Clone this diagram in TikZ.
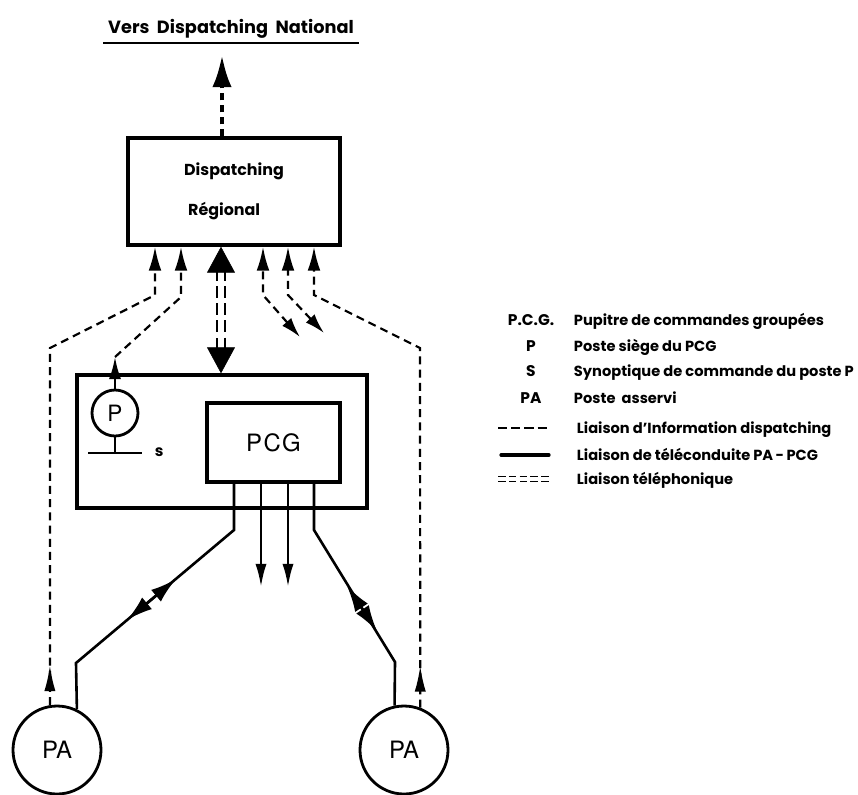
\documentclass[tikz,border=0pt]{standalone}
\usepackage{fontspec}
\setmainfont{Poppins}
\newfontfamily\helv{TeX Gyre Heros}
\usetikzlibrary{arrows.meta,decorations.markings}
\begin{document}
\begin{tikzpicture}[x=0.25mm, y=-0.25mm,
  info/.style={line width=0.55mm, dash pattern=on 2mm off 1.3mm},
  tele/.style={line width=0.65mm},
  boite/.style={draw, line width=0.85mm, inner sep=0pt},
  rond/.style={draw, circle, line width=0.7mm, inner sep=0pt},
  fl/.style={-{Latex[length=6mm,width=3.2mm]}},
  flpt/.style={{Latex[length=5mm,width=3mm]}-{Latex[length=6mm,width=3.2mm]}},
  flduo/.style={{Latex[length=6.5mm,width=3.8mm]}-{Latex[length=6.5mm,width=3.8mm]}},
  flmil/.style={postaction={decorate}, decoration={markings,
      mark=at position #1 with {\arrow{Latex[length=6.5mm,width=2.8mm]}}}},
  sigle/.style={anchor=base, font=\bfseries\fontsize{11}{12}\selectfont},
  legende/.style={anchor=base west, font=\bfseries\fontsize{10.4}{12}\selectfont}]
\useasboundingbox (0,0) rectangle (858,794);

% titre
\node[anchor=base, font=\bfseries\fontsize{12.6}{14}\selectfont] (titre) at (231,33) {Vers\ \ Dispatching\ \ National};
\draw[line width=0.5mm] (titre.south west) -- (titre.south east);

% postes
\node[boite, align=left, minimum width=53mm, minimum height=26.75mm, font=\bfseries\fontsize{11.3}{13}\selectfont] (dr) at (234,191.5) {Dispatching\\[5.3mm]\hspace*{1mm}Régional};
\node[boite, minimum width=72.5mm, minimum height=33.25mm] (poste) at (222,441.5) {};
\node[boite, minimum width=33.25mm, minimum height=19.75mm, font=\helv\fontsize{17}{17}\selectfont] (pcg) at (273.5,442.5) {P\kern1pt C\kern1pt G};
\node[rond, minimum size=11.5mm, font=\helv\fontsize{16}{16}\selectfont] (psiege) at (115,413) {P};
\node[rond, minimum size=22mm, font=\helv\fontsize{17}{17}\selectfont] (pag) at (57,750) {PA};
\node[rond, minimum size=22mm, font=\helv\fontsize{17}{17}\selectfont] (pad) at (404,750) {PA};

% synoptique s
\coordinate (sbarre) at (115,453);
\draw[tele] (psiege.south) -- (sbarre);
\draw[tele] (88,453) -- (142,453);
\node[anchor=base west, font=\bfseries\fontsize{11}{11}\selectfont] (slettre) at (150,456) {s};

% vers dispatching national
\coordinate (national) at (222,55);
\draw[line width=1.1mm, dash pattern=on 1.8mm off 1.2mm, -{Latex[length=8mm,width=4.8mm]}] (222,0 |- dr.north) -- (national);

% liaisons d'information
\draw[info, fl, flmil=10mm] (pag.99) -- (50,348) -- (155,295) -- (155,0 |- dr.south);
\draw[info, fl, flmil=10.5mm] (pad.69) -- (420,348) -- (314,295) -- (314,0 |- dr.south);
\coordinate (pcoude) at (115,357);
\draw[line width=0.55mm, -{Latex[length=5.5mm,width=3mm]}] (psiege.north) -- (pcoude);
\draw[info, fl] (pcoude) -- (181,297) -- (181,0 |- dr.south);
\coordinate (sortie1) at (300,337);
\coordinate (sortie2) at (324,333);
\draw[info, flpt] (sortie1) -- (263,295) -- (263,0 |- dr.south);
\draw[info, flpt] (sortie2) -- (288,295) -- (288,0 |- dr.south);

% liaison telephonique
\draw[line width=0.55mm, double distance=1.3mm, dash pattern=on 3mm off 1.3mm, shorten <=5.5mm, shorten >=5.5mm] (221,0 |- dr.south) -- (221,0 |- poste.north);
\draw[white, {Triangle[color=black,length=6.5mm,width=7mm]}-{Triangle[color=black,length=6.5mm,width=7mm]}] (221,0 |- dr.south) -- (221,0 |- poste.north);

% teleconduite PA-PCG
\draw[tele] (pag.64) -- (76,663) -- (234,530) -- (234,0 |- pcg.south);
\draw[tele] (pad.102) -- (395,662) -- (314,530) -- (314,0 |- pcg.south);
\coordinate (gbas) at (127,620);
\coordinate (ghaut) at (176,579);
\coordinate (dbas) at (377,631);
\coordinate (dhaut) at (347,586);
\draw[tele, flduo] (gbas) -- (ghaut);
\draw[tele, flduo] (dbas) -- (dhaut);
\coordinate (bas1) at (261,587);
\coordinate (bas2) at (288,587);
\draw[tele, -{Latex[length=5.8mm,width=2.8mm]}] (261,0 |- pcg.south) -- (bas1);
\draw[tele, -{Latex[length=5.8mm,width=2.8mm]}] (288,0 |- pcg.south) -- (bas2);

% legende
\node[sigle] (s1) at (531,325) {P.C.G.};
\node[legende] (l1) at (569,325) {Pupitre\ de\ commandes\ groupées};
\node[sigle] (s2) at (531,351) {P};
\node[legende] (l2) at (569,351) {Poste\ siège\ du\ PCG};
\node[sigle] (s3) at (531,376) {S};
\node[legende] (l3) at (569,376) {Synoptique de commande du poste P};
\node[sigle] (s4) at (531,403) {PA};
\node[legende] (l4) at (569,403) {Poste\ \ asservi};
\draw[info, line width=0.65mm, dash pattern=on 2.3mm off 1mm] (498,428) -- (550,428);
\node[legende] (l5) at (572,433) {Liaison\ d'Information\ dispatching};
\draw[tele, line width=0.8mm, line cap=round] (501,455) -- (549,455);
\node[legende] (l6) at (572,460) {Liaison\ de\ téléconduite\ PA\,-\,PCG};
\draw[line width=0.45mm, double distance=0.8mm, dash pattern=on 1.9mm off 0.8mm] (498,479) -- (552,479);
\node[legende] (l7) at (572,484) {Liaison\ téléphonique};
\end{tikzpicture}
\end{document}
